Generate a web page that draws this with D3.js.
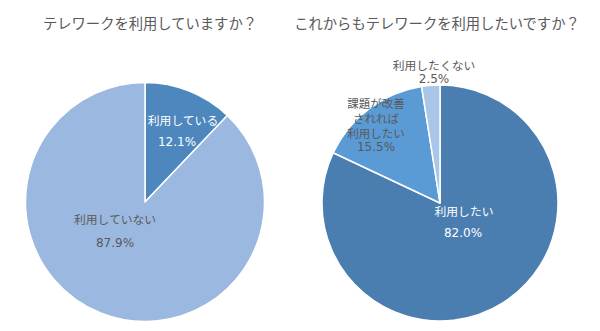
<!DOCTYPE html>
<html><head><meta charset="utf-8">
<script src="https://cdn.jsdelivr.net/npm/d3@7"></script>
<style>body{margin:0;background:#fff}svg{display:block}text{font-family:"Noto Sans CJK JP","Noto Sans",sans-serif}</style>
</head><body>
<svg id="c" width="600" height="331"></svg>
<script>
const title1 = "テレワークを利用していますか？";
const categories1 = ["利用している", "利用していない"];
const values1 = [12.1, 87.9];
const colors1 = ["#4D87BE", "#9BB9E0"];
const labelColors1 = ["#ffffff", "#595959"];

const title2 = "これからもテレワークを利用したいですか？";
const categories2 = ["利用したい", "課題が改善|されれば|利用したい", "利用したくない"];
const values2 = [82.0, 15.5, 2.5];
const colors2 = ["#4A7EB0", "#5A9BD5", "#A9C5E8"];
const labelColors2 = ["#ffffff", "#595959", "#595959"];

const svg = d3.select("#c");

function drawPie(cx, cy, r, title, titleX, cats, vals, cols, lcols, labelPos) {
  svg.append("text").attr("x", titleX).attr("y", 22).attr("text-anchor", "middle")
    .attr("dominant-baseline", "central").attr("font-size", 14.3).attr("fill", "#595959").text(title);
  const pie = d3.pie().sort(null).value(d => d)(vals);
  const arc = d3.arc().innerRadius(0).outerRadius(r);
  const g = svg.append("g").attr("transform", `translate(${cx},${cy})`);
  g.selectAll("path").data(pie).join("path")
    .attr("d", arc).attr("fill", (d, i) => cols[i])
    .attr("stroke", "#ffffff").attr("stroke-width", 1.5).attr("stroke-linejoin", "round");
  pie.forEach((d, i) => {
    const lines = cats[i].split("|");
    const p = labelPos[i];
    const t = g.append("text").attr("text-anchor", "middle").attr("font-size", p.fs || 11.8)
      .attr("fill", lcols[i]);
    lines.forEach((ln, k) => {
      t.append("tspan").attr("x", p.x).attr("y", p.y + k * p.lh).attr("dominant-baseline", "central").text(ln);
    });
    t.append("tspan").attr("x", p.x + (p.dx || 0)).attr("y", p.y + (lines.length - 1) * p.lh + p.gap)
      .attr("dominant-baseline", "central").attr("font-family", "DejaVu Sans").attr("font-size", 12)
      .text(d3.format(".1f")(vals[i]) + "%");
  });
}

drawPie(145, 202, 119.5, title1, 150, categories1, values1, colors1, labelColors1,
  [{x: 38, y: -83, lh: 14, gap: 23, dx: -6}, {x: -30, y: 16, lh: 14, gap: 24.5}]);

drawPie(440, 203, 118, title2, 437, categories2, values2, colors2, labelColors2,
  [{x: 24, y: 7.5, lh: 14, gap: 22.5, dx: -1},
   {x: -64, y: -100.5, lh: 15, gap: 14.5, fs: 11.5},
   {x: -6, y: -138.5, lh: 14, gap: 14}]);
</script>
</body></html>
